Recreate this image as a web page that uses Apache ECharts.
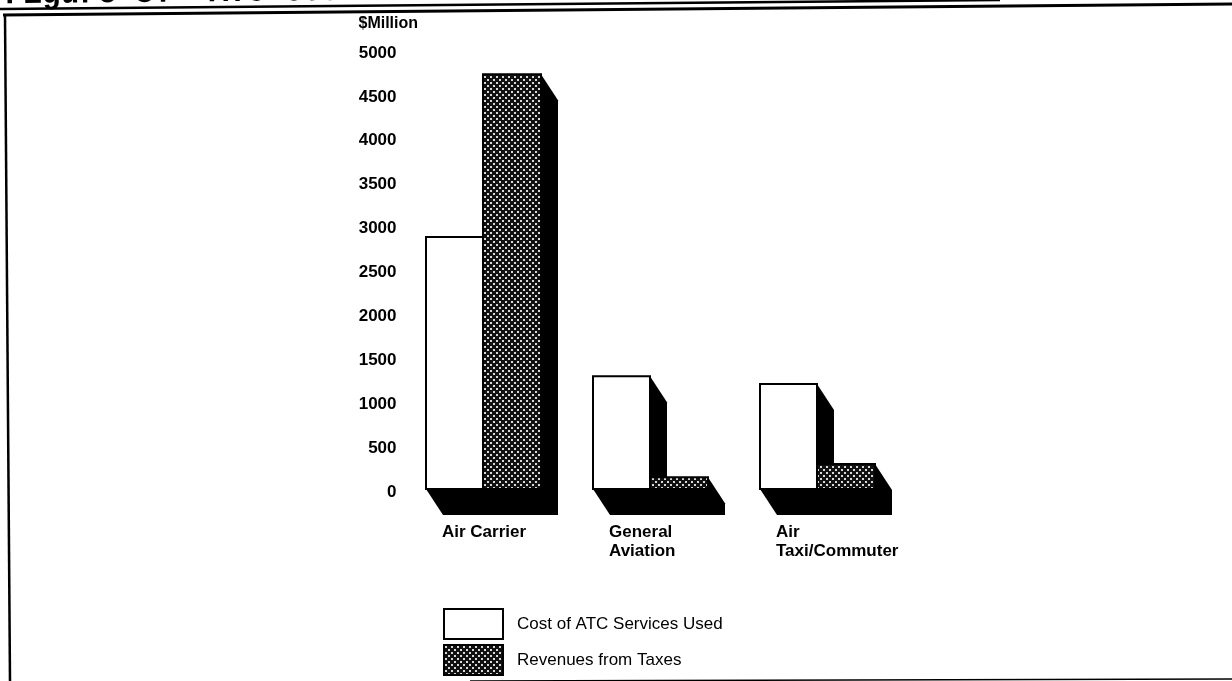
<!DOCTYPE html>
<html>
<head>
<meta charset="utf-8">
<title>ATC costs and revenues</title>
<style>
  html, body { margin: 0; padding: 0; background: #fff; }
  #chart { width: 1232px; height: 681px; }
</style>
<script src="https://cdn.jsdelivr.net/npm/echarts@6/dist/echarts.min.js"></script>
</head>
<body>
<div id="chart"></div>
<script>
const categories = ['Air Carrier', 'General\nAviation', 'Air\nTaxi/Commuter'];
const costOfServices = [2870, 1285, 1195];
const taxRevenues = [4725, 135, 285];
const yTicks = [0, 500, 1000, 1500, 2000, 2500, 3000, 3500, 4000, 4500, 5000];

const fontFamily = '"Liberation Sans", Arial, sans-serif';

// dotted fill used for the revenue bars
function dotPattern() {
  const c = document.createElement('canvas');
  c.width = 6;
  c.height = 6;
  const ctx = c.getContext('2d');
  ctx.fillStyle = '#111';
  ctx.fillRect(0, 0, 6, 6);
  ctx.fillStyle = '#d8d8d8';
  ctx.fillRect(1, 1, 2, 2);
  ctx.fillRect(4, 4, 2, 2);
  return { image: c, repeat: 'repeat' };
}
const dots = dotPattern();

// slanted box: front face plus a black side/bottom shadow
// the bars sit a little above the tick labels' zero in the original, hence liftY
function bar3d(fromX, toX, fill) {
  const depthX = 17, depthY = 26, liftY = 3;
  return function (params, api) {
    const top = api.coord([api.value(0), api.value(1)]);
    const base = api.coord([api.value(0), 0]);
    const x0 = top[0] + fromX, x1 = top[0] + toX;
    const yTop = top[1] - liftY, yBase = base[1] - liftY;
    return {
      type: 'group',
      children: [
        {
          type: 'polygon',
          shape: {
            points: [
              [x0, yBase], [x0 + depthX, yBase + depthY],
              [x1 + depthX, yBase + depthY], [x1 + depthX, yTop + depthY],
              [x1, yTop]
            ]
          },
          style: { fill: '#000' }
        },
        {
          type: 'rect',
          shape: { x: x0, y: yTop, width: x1 - x0, height: yBase - yTop },
          style: { fill: fill, stroke: '#000', lineWidth: 2 }
        }
      ]
    };
  };
}

function pairs(values) {
  return values.map(function (v, i) { return [i, v]; });
}

const chart = echarts.init(document.getElementById('chart'));
chart.setOption({
  animation: false,
  backgroundColor: '#fff',
  grid: { left: 358.5, width: 501, top: 53, height: 439 },
  legend: {
    left: 443,
    top: 608,
    padding: 0,
    orient: 'vertical',
    itemWidth: 59,
    itemHeight: 30,
    itemGap: 4,
    selectedMode: false,
    textStyle: { fontFamily: fontFamily, fontSize: 17, color: '#000', padding: [0, 0, 0, 9] },
    data: [
      { name: 'Cost of ATC Services Used', icon: 'rect' },
      { name: 'Revenues from Taxes', icon: 'rect' }
    ]
  },
  xAxis: {
    type: 'category',
    data: categories,
    axisLine: { show: false },
    axisTick: { show: false },
    axisLabel: {
      align: 'left',
      verticalAlign: 'top',
      margin: 31,
      interval: 0,
      color: '#000',
      fontFamily: fontFamily,
      fontSize: 17,
      fontWeight: 'bold',
      lineHeight: 19
    }
  },
  yAxis: {
    type: 'value',
    min: 0,
    max: 5000,
    interval: 500,
    name: '$Million',
    nameLocation: 'end',
    nameGap: 21,
    nameTextStyle: { align: 'left', color: '#000', fontFamily: fontFamily, fontSize: 16, fontWeight: 'bold' },
    splitLine: { show: false },
    axisLine: { show: false },
    axisTick: { show: false },
    axisLabel: {
      margin: -38,
      color: '#000',
      fontFamily: fontFamily,
      fontSize: 17,
      fontWeight: 'bold',
      formatter: function (v) { return yTicks.indexOf(v) >= 0 ? String(v) : ''; }
    }
  },
  series: [
    {
      name: 'Cost of ATC Services Used',
      type: 'custom',
      clip: false,
      renderItem: bar3d(-16, 41, '#fff'),
      encode: { x: 0, y: 1 },
      itemStyle: { color: '#fff', borderColor: '#000', borderWidth: 2 },
      data: pairs(costOfServices)
    },
    {
      name: 'Revenues from Taxes',
      type: 'custom',
      clip: false,
      renderItem: bar3d(41, 99, dots),
      encode: { x: 0, y: 1 },
      itemStyle: { color: dots, borderColor: '#000', borderWidth: 2 },
      data: pairs(taxRevenues)
    }
  ],
  // scanned page furniture: clipped figure caption and the skewed frame
  graphic: [
    {
      type: 'text',
      x: 5,
      y: 11,
      rotation: 0.0105,
      style: {
        text: 'Figure 3:  ATC Costs',
        fontFamily: '"Liberation Mono", monospace',
        fontSize: 31,
        fontWeight: 'bold',
        fill: '#000',
        textVerticalAlign: 'bottom'
      }
    },
    { type: 'line', shape: { x1: 0, y1: 9, x2: 1000, y2: 0 }, style: { stroke: '#000', lineWidth: 2.5 } },
    { type: 'line', shape: { x1: 3, y1: 15, x2: 1232, y2: 4 }, style: { stroke: '#000', lineWidth: 3 } },
    { type: 'line', shape: { x1: 5, y1: 15, x2: 10, y2: 681 }, style: { stroke: '#000', lineWidth: 2.5 } },
    { type: 'line', shape: { x1: 470, y1: 681, x2: 1232, y2: 679 }, style: { stroke: '#000', lineWidth: 1.5 } }
  ]
});
</script>
</body>
</html>
